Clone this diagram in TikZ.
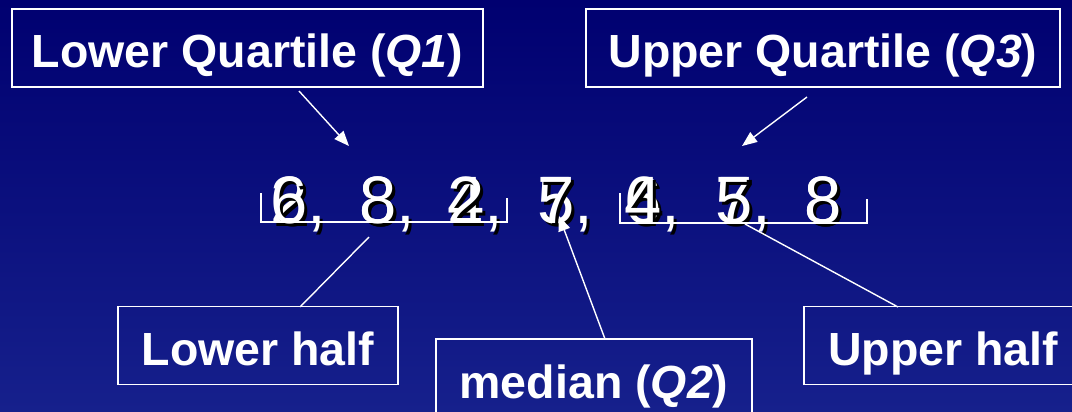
\documentclass[tikz,border=0pt]{standalone}
\usepackage{fontspec}
\setmainfont{Liberation Sans}
\usetikzlibrary{arrows.meta}
\definecolor{bgtop}{RGB}{0,0,112}
\definecolor{bgbot}{RGB}{22,32,140}
\begin{document}
\begin{tikzpicture}[x=1pt,y=-1pt,
  lbl/.style={draw=white,line width=1.6pt,text=white,inner sep=0pt,
    minimum height=78pt,text height=45pt,text depth=5pt,
    font=\fontsize{46.5}{50}\selectfont\bfseries},
  num/.style={text=white,inner sep=0pt,anchor=base west,
    font=\fontsize{67}{70}\selectfont},
  shd/.style={num,text=black},
  conn/.style={draw=white,line width=1.4pt},
  arr/.style={conn,-{Triangle[length=15pt,width=12pt]}}]
\useasboundingbox (0,0) rectangle (1072,412);
\shade[top color=bgtop,bottom color=bgbot] (0,0) rectangle (1072,412);

% labels
\node[lbl,minimum width=471pt] (lq) at (247.5,48) {Lower Quartile (\textit{Q1})};
\node[lbl,minimum width=474pt] (uq) at (823,48) {Upper Quartile (\textit{Q3})};
\node[lbl,minimum width=280pt] (lh) at (258,345.5) {Lower half};
\node[lbl,minimum width=316pt] (md) at (594,378) {median (\textit{Q2})};
\node[lbl,minimum width=278pt] (uh) at (943,345.5) {Upper half};

% overlaid number rows
\foreach \x/\b [count=\i] in {270/2,359/8,447/4,537/5,624/6,715/7,804/8}{
  \node[shd] (sb\i) at (\x+3,226) {\b};
  \node[num] (nb\i) at (\x,223) {\b};
}
\foreach \x/\a [count=\i] in {270/{6,},359/{8,},447/{2,},537/{7,},624/{4,},715/{5,},804/{8}}{
  \node[shd] (sa\i) at (\x+3,226) {\a};
  \node[num] (na\i) at (\x,223) {\a};
}

% brackets
\draw[conn,line width=1.8pt] (261,193) -- (261,222) -- (507,222) -- (507,198);
\draw[conn,line width=1.8pt] (620,193) -- (620,223) -- (867,223) -- (867,199);

% connectors
\coordinate (q1s) at (299,91);  \coordinate (q1e) at (349,146);
\coordinate (q3s) at (807,97);  \coordinate (q3e) at (742,146);
\coordinate (lhs) at (300,307); \coordinate (lhe) at (369,237);
\coordinate (mds) at (605,339); \coordinate (mde) at (559,216);
\coordinate (uhs) at (898,307); \coordinate (uhe) at (745,224);
\draw[arr] (q1s) -- (q1e);
\draw[arr] (q3s) -- (q3e);
\draw[conn] (lhs) -- (lhe);
\draw[arr] (mds) -- (mde);
\draw[conn] (uhs) -- (uhe);
\end{tikzpicture}
\end{document}
